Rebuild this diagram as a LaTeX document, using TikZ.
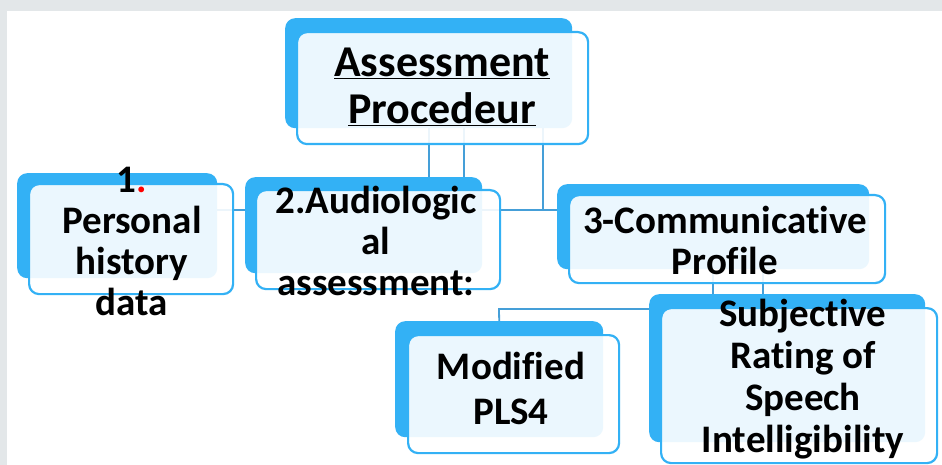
\documentclass[tikz,border=0pt]{standalone}
\usepackage{fontspec}
\setmainfont{Carlito}[Ligatures={NoCommon,NoContextual}]
\usetikzlibrary{backgrounds}
\definecolor{boxblue}{HTML}{33B1F5}
\definecolor{linkblue}{HTML}{459FD8}
\definecolor{pagegray}{HTML}{E3E7E9}
\begin{document}
\begin{tikzpicture}[x=1pt, y=-1pt,
  back/.style={fill=boxblue, rounded corners=10pt, anchor=north west, inner sep=0pt},
  front/.style={draw=boxblue, line width=2.2pt, fill=white, fill opacity=0.9, rounded corners=10pt, anchor=north west, inner sep=0pt},
  txt/.style={align=center, inner sep=0pt, font=\fontsize{39}{41}\selectfont\bfseries},
  link/.style={draw=linkblue, line width=1.8pt}]
  \useasboundingbox (0,0) rectangle (942,465);
  % boxes
  \node[back, minimum width=287pt, minimum height=110pt] (headB) at (285,18) {};
  \node[front, minimum width=291pt, minimum height=112pt] (head) at (296,31) {};
  \node[back, minimum width=200pt, minimum height=105pt] (persB) at (17,173) {};
  \node[front, minimum width=204pt, minimum height=110pt] (pers) at (28,183) {};
  \node[back, minimum width=237pt, minimum height=96pt] (audioB) at (245,177) {};
  \node[front, minimum width=244pt, minimum height=99pt] (audio) at (255,189) {};
  \node[back, minimum width=312pt, minimum height=85pt] (commB) at (557,184) {};
  \node[front, minimum width=316pt, minimum height=88pt] (comm) at (568,194) {};
  \node[back, minimum width=208pt, minimum height=116pt] (plsB) at (395,321) {};
  \node[front, minimum width=211pt, minimum height=118pt] (pls) at (407,334) {};
  \node[back, minimum width=276pt, minimum height=148pt] (subjB) at (649,294) {};
  \node[front, minimum width=276pt, minimum height=155pt] (subj) at (660,307) {};
  % texts
  \node[txt, font=\fontsize{44}{47}\selectfont\bfseries] (headT) at (442,87) {\underline{Assessment}\\\underline{Procedeur}};
  \node[txt] (persT) at (132,241) {1\textcolor{red}{.}\\Personal\\history\\data};
  \node[txt] (audioT) at (376,241) {2.Audiologic\\al\\assessment:};
  \node[txt] (commT) at (725,240) {3-Communicat\kern0pt ive\\Profile};
  \node[txt, font=\fontsize{39}{45}\selectfont\bfseries] (plsT) at (511,388) {Modif\kern0pt ied\\PLS4};
  \node[txt, font=\fontsize{39}{42}\selectfont\bfseries] (subjT) at (803,379) {Subjective\\Rating of\\Speech\\Intelligibility};
  \coordinate (hub) at (543,210);
  \coordinate (hubS) at (499,309);
  \begin{scope}[on background layer]
    \fill[pagegray] (0,0) rectangle (942,465);
    \fill[white] (7,11) rectangle (942,465);
    \draw[link] (headB.center) -- (headB.center |- audioB.north);
    \draw[link] ([xshift=35pt]headB.center) -- ([xshift=35pt]headB.center |- audioB.north);
    \draw[link] (headB.center -| hub) -- (hub);
    \draw[link] (persB.center |- hub) -- (commB.center |- hub);
    \draw[link] (commB.center) -- (commB.center |- subjB.north);
    \draw[link] ([xshift=50pt]commB.center) -- ([xshift=50pt]commB.center |- subjB.north);
    \draw[link] (plsB.north) -- (hubS) -- (subjB.center |- hubS);
  \end{scope}
\end{tikzpicture}
\end{document}
